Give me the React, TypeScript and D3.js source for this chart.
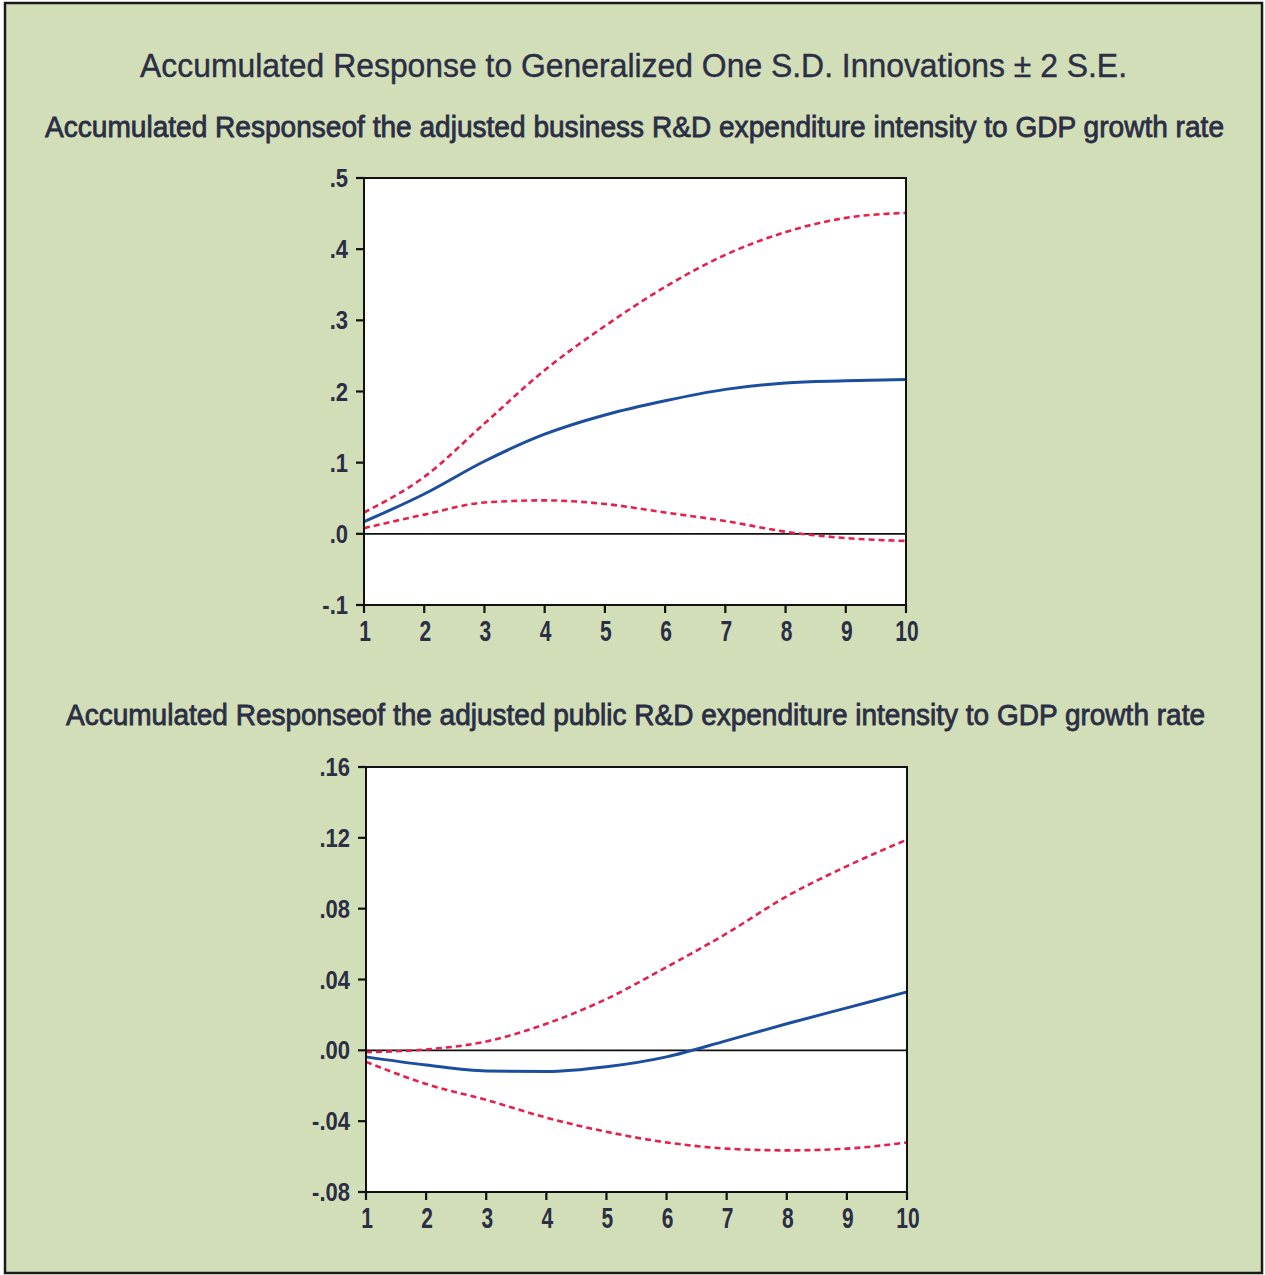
import React from 'react'
import * as d3 from 'd3'

const periods = [1, 2, 3, 4, 5, 6, 7, 8, 9, 10]

// business R&D panel
const bizResponse = [0.017, 0.056, 0.102, 0.14, 0.167, 0.187, 0.203, 0.212, 0.215, 0.217]
const bizUpper = [0.03, 0.08, 0.155, 0.23, 0.292, 0.347, 0.392, 0.424, 0.444, 0.451]
const bizLower = [0.008, 0.027, 0.044, 0.047, 0.042, 0.03, 0.018, 0.003, -0.006, -0.01]
const bizTicks = [0.5, 0.4, 0.3, 0.2, 0.1, 0, -0.1]
const bizTickLabels = ['.5', '.4', '.3', '.2', '.1', '.0', '-.1']

// public R&D panel
const pubResponse = [-0.0037, -0.0083, -0.0117, -0.012, -0.0093, -0.0037, 0.0055, 0.015, 0.024, 0.033]
const pubUpper = [-0.001, 0.0005, 0.005, 0.015, 0.029, 0.047, 0.066, 0.087, 0.104, 0.119]
const pubLower = [-0.0065, -0.019, -0.028, -0.038, -0.046, -0.052, -0.0555, -0.0565, -0.0555, -0.052]
const pubTicks = [0.16, 0.12, 0.08, 0.04, 0, -0.04, -0.08]
const pubTickLabels = ['.16', '.12', '.08', '.04', '.00', '-.04', '-.08']

const mainTitle = 'Accumulated Response to Generalized One S.D. Innovations \u00b1 2 S.E.'
const bizTitle = 'Accumulated Responseof the adjusted business R&D expenditure intensity to GDP growth rate'
const pubTitle = 'Accumulated Responseof the adjusted public R&D expenditure intensity to GDP growth rate'

const textColor = '#2b2e44'
const blue = '#1b4e9e'
const red = '#e5204c'
const font = '"Liberation Sans", Arial, sans-serif'

interface PanelProps {
  left: number
  top: number
  width: number
  height: number
  ticks: number[]
  tickLabels: string[]
  response: number[]
  upper: number[]
  lower: number[]
}

function Panel({ left, top, width, height, ticks, tickLabels, response, upper, lower }: PanelProps) {
  const x = d3.scaleLinear().domain([1, 10]).range([left, left + width])
  const y = d3
    .scaleLinear()
    .domain([d3.min(ticks) as number, d3.max(ticks) as number])
    .range([top + height, top])

  const line = d3
    .line<number>()
    .x((d, i) => x(periods[i]))
    .y((d) => y(d))
    .curve(d3.curveMonotoneX)

  return (
    <g>
      <rect x={left} y={top} width={width} height={height} fill="white" />
      <line x1={left} x2={left + width} y1={y(0)} y2={y(0)} stroke="#111" strokeWidth={1.8} />
      <path d={line(upper) || ''} fill="none" stroke={red} strokeWidth={2.6} strokeDasharray="6 4" />
      <path d={line(lower) || ''} fill="none" stroke={red} strokeWidth={2.6} strokeDasharray="6 4" />
      <path d={line(response) || ''} fill="none" stroke={blue} strokeWidth={3} />
      <rect x={left} y={top} width={width} height={height} fill="none" stroke="#111" strokeWidth={2} />
      {ticks.map((t, i) => (
        <g key={'y' + i}>
          <line x1={left - 8} x2={left} y1={y(t)} y2={y(t)} stroke="#111" strokeWidth={2.2} />
          <text
            transform={`translate(${left - 16},${y(t)}) scale(0.88,1)`}
            dy="0.36em"
            textAnchor="end"
            fontSize={25}
            fontWeight="bold"
            fontFamily={font}
            fill={textColor}
          >
            {tickLabels[i]}
          </text>
        </g>
      ))}
      {periods.map((p) => (
        <g key={'x' + p}>
          <line x1={x(p)} x2={x(p)} y1={top + height} y2={top + height + 8} stroke="#111" strokeWidth={2.2} />
          <text
            transform={`translate(${x(p) + (p === 10 ? 1 : 1)},${top + height + 36}) scale(0.7,1)`}
            textAnchor="middle"
            fontSize={30}
            fontWeight="bold"
            fontFamily={font}
            fill={textColor}
          >
            {p}
          </text>
        </g>
      ))}
    </g>
  )
}

export default function App() {
  return (
    <svg
      width={1265}
      height={1275}
      style={{ position: 'absolute', left: 0, top: 0, background: 'white' }}
    >
      <rect x={5} y={3} width={1257} height={1270} fill="#d2deb8" stroke="#1a1a1a" strokeWidth={2.5} />
      <text
        x={140}
        y={77}
        fontSize={33}
        fontFamily={font}
        fill={textColor}
        stroke={textColor}
        strokeWidth={0.4}
        textLength={987}
        lengthAdjust="spacingAndGlyphs"
      >
        {mainTitle}
      </text>
      <text
        x={45}
        y={137}
        fontSize={29}
        fontFamily={font}
        fill={textColor}
        stroke={textColor}
        strokeWidth={0.8}
        textLength={1179}
        lengthAdjust="spacingAndGlyphs"
      >
        {bizTitle}
      </text>
      <Panel
        left={364}
        top={178}
        width={542}
        height={427}
        ticks={bizTicks}
        tickLabels={bizTickLabels}
        response={bizResponse}
        upper={bizUpper}
        lower={bizLower}
      />
      <text
        x={66}
        y={725}
        fontSize={29}
        fontFamily={font}
        fill={textColor}
        stroke={textColor}
        strokeWidth={0.8}
        textLength={1139}
        lengthAdjust="spacingAndGlyphs"
      >
        {pubTitle}
      </text>
      <Panel
        left={366}
        top={767}
        width={541}
        height={425}
        ticks={pubTicks}
        tickLabels={pubTickLabels}
        response={pubResponse}
        upper={pubUpper}
        lower={pubLower}
      />
    </svg>
  )
}
